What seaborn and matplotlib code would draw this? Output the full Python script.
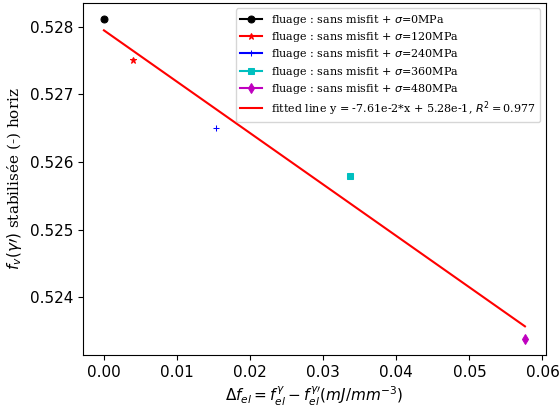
import numpy as np
import matplotlib
matplotlib.use("Agg")
import matplotlib.pyplot as plt
import seaborn as sns

# Delta f_el (mJ/mm^-3) and stabilised volume fraction for each stress level
stress = [0, 120, 240, 360, 480]
delta_fel = [0.0, 0.0040, 0.0154, 0.0336, 0.0576]
fv = [0.52812, 0.52751, 0.52651, 0.52580, 0.52338]
colors = ["k", "r", "b", "c", "m"]
markers = ["o", "*", "+", "s", "d"]

# fitted line coefficients shown in the legend
slope = -0.0761
intercept = 0.52795
r2 = 0.977

fig, ax = plt.subplots(figsize=(5.6, 4.08), dpi=100)

for s, x, y, c, m in zip(stress, delta_fel, fv, colors, markers):
    sns.lineplot(x=[x], y=[y], color=c, marker=m, markersize=5,
                 markeredgecolor=c, linestyle="-",
                 label=r"fluage : sans misfit + $\sigma$=" + f"{s}MPa", ax=ax)

x_fit = np.array([min(delta_fel), max(delta_fel)])
fit_label = (f"fitted line y = {slope:.2e}*x + {intercept:.2e}".replace("e-0", "e-")
             + f", $R^2 = ${r2:.3f}")
sns.lineplot(x=x_fit, y=slope * x_fit + intercept, color="r", label=fit_label, ax=ax)

ax.margins(0.05)
ax.set_xlabel(r"$\Delta f_{el} = f_{el}^{\gamma} - f_{el}^{\gamma\prime} (mJ/mm^{-3})$", fontsize=11)
ax.set_ylabel(r"$f_v(\gamma\prime)$ stabilisée (-) horiz", fontsize=11, family="DejaVu Serif")
ax.set_yticks([0.524, 0.525, 0.526, 0.527, 0.528])
ax.set_xticks([0.0, 0.01, 0.02, 0.03, 0.04, 0.05, 0.06])
ax.tick_params(labelsize=11)
ax.legend(loc="upper right", prop={"family": "DejaVu Serif", "size": 8}, labelspacing=0.29)

fig.subplots_adjust(left=0.148, right=0.975, top=0.993, bottom=0.13)
fig.savefig("out.png")
